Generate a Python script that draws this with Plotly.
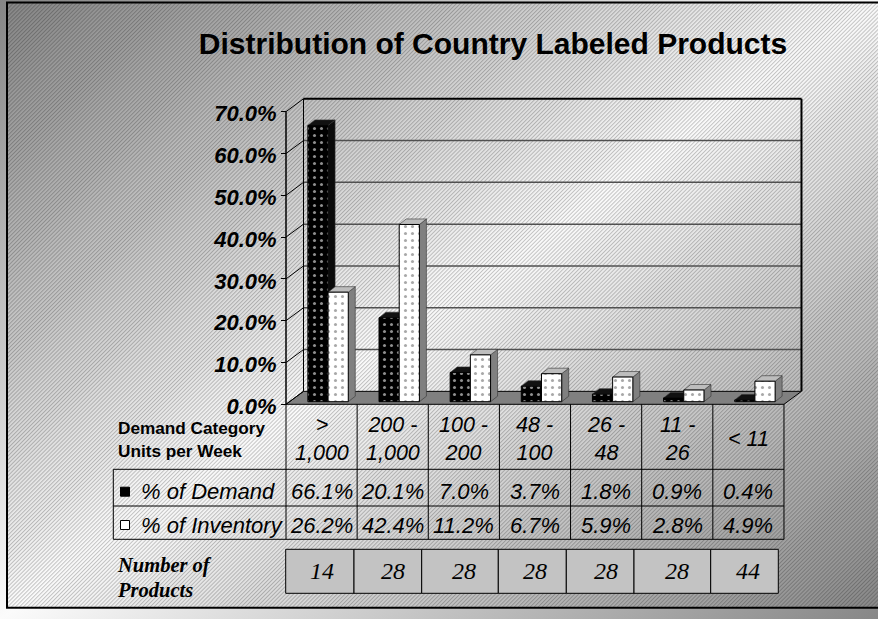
import base64
import plotly.graph_objects as go

# ---------------- data ----------------
categories = ["&gt;<br>1,000", "200 -<br>1,000", "100 -<br>200", "48 -<br>100",
              "26 -<br>48", "11 -<br>26", "&lt; 11"]
demand = [66.1, 20.1, 7.0, 3.7, 1.8, 0.9, 0.4]
inventory = [26.2, 42.4, 11.2, 6.7, 5.9, 2.8, 4.9]
num_products = [14, 28, 28, 28, 28, 28, 44]
y_ticks = [0, 10, 20, 30, 40, 50, 60, 70]
series_names = ["% of Demand", "% of Inventory"]

# ---------------- geometry / style ----------------
W, H = 878, 619
def px(x): return x / W
def py(y): return 1 - y / H

X0_PX = 286.0      # front plane left edge (category -0.5)
CAT_PX = 71.14     # pixels per category
Y0_PX = 404.3      # front plane 0 %
PCT_PX = 4.18      # pixels per percent
PLOT_L, PLOT_R, PLOT_T, PLOT_B = 276, 810, 90, 412

xr = [-0.5 - (X0_PX - PLOT_L) / CAT_PX, -0.5 + (PLOT_R - X0_PX) / CAT_PX]
yr = [-(PLOT_B - Y0_PX) / PCT_PX, (Y0_PX - PLOT_T) / PCT_PX]
BAR_LIFT = 2.6 / PCT_PX
y2r = [yr[0] - BAR_LIFT, yr[1] - BAR_LIFT]

DX = 17.5 / CAT_PX   # depth offset of back wall
DY = 3.1             # in percent units
SDX = 7.0 / CAT_PX   # bar depth
SDY = 5.5 / PCT_PX
BAR_W = 20.2 / CAT_PX
OFF_BLACK = -13.7 / CAT_PX
OFF_WHITE = OFF_BLACK + BAR_W

FONT = "Liberation Sans"
SERIF = "Liberation Serif"

# ---------------- background image ----------------
svg = f'''<svg xmlns="http://www.w3.org/2000/svg" width="{W}" height="{H}" viewBox="0 0 {W} {H}">
<defs>
<linearGradient id="g" x1="0" y1="0" x2="1" y2="1">
<stop offset="0" stop-color="#858585"/>
<stop offset="0.5" stop-color="#fbfbfb"/>
<stop offset="1" stop-color="#878787"/>
</linearGradient>
<pattern id="h" width="2.8" height="2.8" patternUnits="userSpaceOnUse" patternTransform="rotate(45)">
<rect x="0" y="0" width="1" height="2.8" fill="#000" fill-opacity="0.22"/>
</pattern>
</defs>
<rect x="0" y="0" width="{W}" height="{H}" fill="url(#g)"/>
<rect x="7" y="2.5" width="{W-7}" height="605" fill="url(#h)"/>
</svg>'''
bg_uri = "data:image/svg+xml;base64," + base64.b64encode(svg.encode()).decode()

fig = go.Figure()

fig.add_trace(go.Bar(
    x=list(range(len(categories))), y=demand, yaxis="y2", name=series_names[0],
    width=BAR_W, offset=OFF_BLACK,
    marker=dict(color="black", line=dict(color="black", width=1),
                pattern=dict(shape=".", fgcolor="#8f8f8f", bgcolor="black",
                             size=7, solidity=0.15, fillmode="replace")),
    hoverinfo="skip"))
fig.add_trace(go.Bar(
    x=list(range(len(categories))), y=inventory, yaxis="y2", name=series_names[1],
    width=BAR_W, offset=OFF_WHITE,
    marker=dict(color="white", line=dict(color="black", width=1),
                pattern=dict(shape=".", fgcolor="#a8a8a8", bgcolor="white",
                             size=7, solidity=0.15, fillmode="replace")),
    hoverinfo="skip"))

shapes = []
# floor
shapes.append(dict(type="path", xref="x", yref="y", layer="below",
                   path=f"M {-0.5},0 L {6.5},0 L {6.5+DX},{DY} L {-0.5+DX},{DY} Z",
                   fillcolor="#808080", line=dict(color="black", width=1)))
# back wall gridlines
for v in y_ticks[1:-1]:
    shapes.append(dict(type="line", xref="x", yref="y", layer="below",
                       x0=-0.5 + DX, x1=6.5 + DX, y0=v + DY, y1=v + DY,
                       line=dict(color="#505050", width=1.5)))
# left wall slanted tick lines
for v in y_ticks:
    shapes.append(dict(type="line", xref="x", yref="y", layer="below",
                       x0=-0.5, x1=-0.5 + DX, y0=v, y1=v + DY,
                       line=dict(color="black", width=1)))
# back wall frame
shapes.append(dict(type="line", xref="x", yref="y", layer="below",
                   x0=-0.5 + DX, x1=6.5 + DX, y0=70 + DY, y1=70 + DY,
                   line=dict(color="black", width=2)))
shapes.append(dict(type="line", xref="x", yref="y", layer="below",
                   x0=-0.5 + DX, x1=-0.5 + DX, y0=DY, y1=70 + DY,
                   line=dict(color="black", width=1)))
shapes.append(dict(type="line", xref="x", yref="y", layer="below",
                   x0=6.5 + DX, x1=6.5 + DX, y0=DY, y1=70 + DY,
                   line=dict(color="black", width=2)))
# front axis line
shapes.append(dict(type="line", xref="x", yref="y", layer="below",
                   x0=-0.5, x1=-0.5, y0=0, y1=70,
                   line=dict(color="black", width=1.5)))

# 3D faces of bars
def faces(values, off, side_col, top_col):
    out = []
    for i, v in enumerate(values):
        xl = i + off
        xrr = xl + BAR_W
        out.append(dict(type="path", xref="x", yref="y2", layer="below",
                        path=f"M {xrr},0 L {xrr+SDX},{SDY} L {xrr+SDX},{v+SDY} L {xrr},{v} Z",
                        fillcolor=side_col, line=dict(color="#333", width=0.6)))
        out.append(dict(type="path", xref="x", yref="y2", layer="below",
                        path=f"M {xl},{v} L {xl+SDX},{v+SDY} L {xrr+SDX},{v+SDY} L {xrr},{v} Z",
                        fillcolor=top_col, line=dict(color="#333", width=0.6)))
    return out
shapes += faces(demand, OFF_BLACK, "#0a0a0a", "#111111")
shapes += faces(inventory, OFF_WHITE, "#808080", "#bdbdbd")

# ---------------- data table ----------------
ROW_TOP, ROW1, ROW2, ROW3 = Y0_PX, 469.3, 506.0, 539.3
TABLE_LEFT = 113.3
for yy in (ROW1, ROW2, ROW3):
    shapes.append(dict(type="line", xref="paper", yref="paper",
                       x0=px(TABLE_LEFT), x1=px(X0_PX + 7 * CAT_PX), y0=py(yy), y1=py(yy),
                       line=dict(color="black", width=1)))
shapes.append(dict(type="line", xref="paper", yref="paper",
                   x0=px(TABLE_LEFT), x1=px(TABLE_LEFT), y0=py(ROW1), y1=py(ROW3),
                   line=dict(color="black", width=1)))
for k in range(len(categories) + 1):
    shapes.append(dict(type="line", xref="x", yref="paper",
                       x0=k - 0.5, x1=k - 0.5, y0=py(ROW_TOP), y1=py(ROW3),
                       line=dict(color="black", width=1)))
# legend keys
for yy, col in ((491.7, "black"), (525.0, "white")):
    shapes.append(dict(type="rect", xref="paper", yref="paper",
                       x0=px(120.5), x1=px(129.5), y0=py(yy + 4.5), y1=py(yy - 4.5),
                       fillcolor=col, line=dict(color="black", width=1)))

# number of products box
NP_EDGES = [285.7, 354.0, 421.7, 498.3, 566.3, 634.0, 710.7, 778.3]
NP_TOP, NP_BOT = 549.3, 593.3
for a, b in zip(NP_EDGES[:-1], NP_EDGES[1:]):
    shapes.append(dict(type="rect", xref="paper", yref="paper",
                       x0=px(a), x1=px(b), y0=py(NP_BOT), y1=py(NP_TOP),
                       fillcolor="#c3c3c3", line=dict(color="black", width=1)))

# outer frame
shapes.append(dict(type="rect", xref="paper", yref="paper",
                   x0=px(7), x1=px(W + 5), y0=py(607.7), y1=py(2.5),
                   fillcolor="rgba(0,0,0,0)", line=dict(color="black", width=2)))

ann = []
def txt(x, y, s, size, xref="paper", xanchor="center", family=FONT):
    ann.append(dict(x=x, y=y, xref=xref, yref="paper", text=s, showarrow=False,
                    xanchor=xanchor, yanchor="middle",
                    font=dict(family=family, size=size, color="black")))

for i, c in enumerate(categories):
    txt(i, py(439), f"<i>{c}</i>", 21.5, xref="x")
    txt(i, py(491.7), f"<i>{demand[i]:.1f}%</i>", 22, xref="x")
    txt(i, py(525.0), f"<i>{inventory[i]:.1f}%</i>", 22, xref="x")
    txt(i, py(571.3), f"<i>{num_products[i]}</i>", 24, xref="x", family=SERIF)

txt(px(116), py(427.5), "<b>Demand Category</b>", 17.2, xanchor="left")
txt(px(116), py(450.5), "<b>Units per Week</b>", 17.2, xanchor="left")
txt(px(139), py(491.7), f"<i>{series_names[0]}</i>", 22, xanchor="left")
txt(px(139), py(525.0), f"<i>{series_names[1]}</i>", 22, xanchor="left")
txt(px(115), py(565), "<b><i>Number of</i></b>", 20.5, xanchor="left", family=SERIF)
txt(px(115), py(590), "<b><i>Products</i></b>", 20.5, xanchor="left", family=SERIF)

fig.update_layout(
    width=W, height=H, autosize=False,
    margin=dict(l=0, r=0, t=0, b=0, autoexpand=False),
    paper_bgcolor="rgba(0,0,0,0)", plot_bgcolor="rgba(0,0,0,0)",
    showlegend=False, barmode="overlay",
    font=dict(family=FONT, color="black"),
    title=dict(text="<b>Distribution of Country Labeled Products</b>",
               x=px(493), y=py(43), xanchor="center", yanchor="middle",
               font=dict(family=FONT, size=30, color="black")),
    xaxis=dict(domain=[px(PLOT_L), px(PLOT_R)], range=xr, visible=False,
               automargin=False),
    yaxis=dict(domain=[py(PLOT_B), py(PLOT_T)], range=yr, anchor="free",
               position=px(X0_PX), tickvals=y_ticks,
               ticktext=[f"<b><i>{v:.1f}%</i></b>" for v in y_ticks],
               tickfont=dict(family=FONT, size=22, color="black"),
               ticks="outside", ticklen=5, tickcolor="black", tickwidth=1,
               ticklabelshift=2, automargin=False,
               showgrid=False, zeroline=False, showline=False),
    yaxis2=dict(domain=[py(PLOT_B), py(PLOT_T)], range=y2r, overlaying="y",
                visible=False, automargin=False),
    shapes=shapes, annotations=ann,
    images=[dict(source=bg_uri, xref="paper", yref="paper", x=0, y=1,
                 sizex=1, sizey=1, sizing="stretch", layer="below",
                 xanchor="left", yanchor="top")],
)

fig.write_html("out.html", config={"displayModeBar": False},
               post_script="document.body.style.margin='0';"
                           "document.body.style.overflow='hidden';"
                           "document.documentElement.style.overflow='hidden';")
